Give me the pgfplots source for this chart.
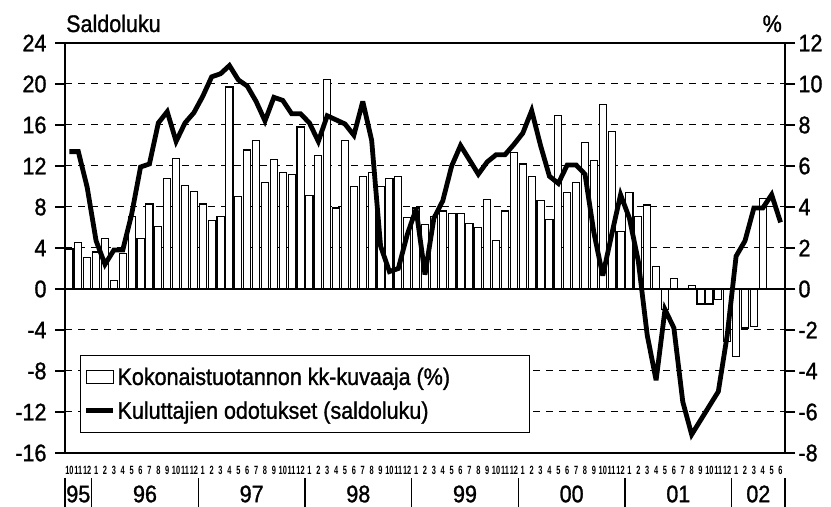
\documentclass[border=0pt]{standalone}
\usepackage{fontspec}
\setmainfont{Liberation Sans}[FakeStretch=0.9, FakeBold=1.2]
\newfontfamily\monthfont{Liberation Sans}[FakeStretch=0.62]
\usepackage{pgfplots}
\usepackage{pgfplotstable}
\pgfplotsset{compat=1.18}

\pgfplotstableread{
x y
0 1.95
1 2.25
2 1.55
3 1.8
4 2.45
5 0.43
6 1.75
7 3.55
8 2.45
9 4.15
10 3.03
11 5.4
12 6.35
13 5.05
14 4.75
15 4.15
16 3.35
17 3.55
18 9.85
19 4.5
20 6.78
21 7.25
22 5.2
23 6.3
24 5.7
25 5.6
26 7.9
27 4.58
28 6.5
29 10.2
30 3.95
31 7.25
32 5.0
33 5.5
34 5.68
35 5.0
36 5.4
37 5.5
38 3.48
39 3.95
40 3.15
41 3.55
42 3.8
43 3.7
44 3.7
45 3.2
46 3.0
47 4.38
48 2.35
49 3.8
50 6.65
51 6.1
52 5.5
53 4.33
54 3.4
55 8.45
56 4.7
57 5.2
58 7.15
59 6.25
60 9.0
61 7.7
62 2.8
63 4.7
64 3.55
65 4.1
66 1.1
67 -1.0
68 0.5
69 0
70 0.18
71 -0.73
72 -0.73
73 -0.52
74 -2.55
75 -3.3
76 -1.9
77 -1.83
78 4.4
}\bars

\pgfplotstableread{
x y
0 13.4
1 13.4
2 9.9
3 4.7
4 2.4
5 3.8
6 3.8
7 7.3
8 11.9
9 12.2
10 16.2
11 17.3
12 14.4
13 16.2
14 17.2
15 18.8
16 20.7
17 21.0
18 21.8
19 20.4
20 19.8
21 18.3
22 16.4
23 18.7
24 18.4
25 17.1
26 17.1
27 16.2
28 14.4
29 16.9
30 16.5
31 16.1
32 15.0
33 18.3
34 14.5
35 4.2
36 1.7
37 2.0
38 5.3
39 7.8
40 1.4
41 6.9
42 8.6
43 12.0
44 14.0
45 12.6
46 11.2
47 12.4
48 13.1
49 13.1
50 14.1
51 15.2
52 17.4
53 14.0
54 11.0
55 10.3
56 12.1
57 12.1
58 11.2
59 5.5
60 1.3
61 5.3
62 9.2
63 6.9
64 2.7
65 -4.5
66 -8.9
67 -2.0
68 -3.8
69 -11.0
70 -14.2
71 -12.8
72 -11.4
73 -10.0
74 -4.5
75 3.2
76 4.7
77 7.9
78 7.9
79 9.2
80 6.5
}\cons

\newcommand\bigf{\fontsize{24}{26}\selectfont}

\begin{document}
\begin{tikzpicture}
\useasboundingbox (-65bp,-54bp) rectangle (766bp,453bp);
% bars on the right (%) axis
\begin{axis}[
  scale only axis, width=720bp, height=410bp,
  xmin=-0.5, xmax=80.5, ymin=-8, ymax=12,
  xtick=\empty,
  ytick={-8,-6,...,12},
  yticklabels={-8,-6,-4,-2,0,2,4,6,8,10,12},
  ytick pos=right, yticklabel pos=right,
  tick align=outside, major tick length=10bp,
  every tick/.style={black, line width=1.3bp},
  axis line style={line width=1.4bp},
  ymajorgrids,
  grid style={black, line width=1bp, dash pattern=on 7bp off 6bp},
  extra y ticks={0}, extra y tick labels={},
  extra y tick style={grid style={black, solid, line width=1.5bp}},
  yticklabel style={font=\bigf},
]
\addplot[ybar, bar width=0.8, draw=black, fill=white, line width=1.2bp] table {\bars};
\end{axis}
% line on the left (saldoluku) axis
\begin{axis}[
  scale only axis, width=720bp, height=410bp,
  xmin=-0.5, xmax=80.5, ymin=-16, ymax=24,
  clip=false,
  xtick={0,...,80},
  xticklabels={10,11,12,1,2,3,4,5,6,7,8,9,10,11,12,1,2,3,4,5,6,7,8,9,10,11,12,1,2,3,4,5,6,7,8,9,10,11,12,1,2,3,4,5,6,7,8,9,10,11,12,1,2,3,4,5,6,7,8,9,10,11,12,1,2,3,4,5,6,7,8,9,10,11,12,1,2,3,4,5,6},
  xtick style={draw=none},
  xticklabel style={font=\monthfont\bfseries\fontsize{12}{12}\selectfont, inner sep=0pt, yshift=-3bp},
  ytick={-16,-12,...,24},
  yticklabels={-16,-12,-8,-4,0,4,8,12,16,20,24},
  ytick pos=left,
  tick align=outside, major tick length=10bp,
  every tick/.style={black, line width=1.3bp},
  axis line style={line width=1.4bp},
  yticklabel style={font=\bigf, xshift=-5bp},
  legend style={at={(0.021,0.049)}, anchor=south west, draw=black, line width=1.3bp,
    fill=white, font=\bigf, inner xsep=3bp, inner ysep=10bp, row sep=11bp},
  legend cell align=left,
]
\addlegendimage{legend image code/.code={\draw[black, fill=white, line width=1.2bp] (0bp,-6.5bp) rectangle (27bp,6.5bp);}}
\addlegendentry{\makebox[407bp][l]{Kokonaistuotannon kk-kuvaaja (\%)}}
\addplot[black, line width=4.8bp, miter limit=4,
  legend image code/.code={\draw[black, line width=4.8bp] (0bp,0bp) -- (27bp,0bp);}] table {\cons};
\addlegendentry{\makebox[407bp][l]{Kuluttajien odotukset (saldoluku)}}
% titles
\node[anchor=base west, inner sep=0pt, font=\bigf] at ([xshift=1bp,yshift=11bp]rel axis cs:0,1) {Saldoluku};
\node[anchor=base east, inner sep=0pt, font=\bigf] at ([xshift=-3bp,yshift=11bp]rel axis cs:1,1) {\%};
% year labels
\node[font=\bigf, inner sep=0pt] at ([yshift=-41bp]axis cs:1,-16) {95};
\node[font=\bigf, inner sep=0pt] at ([yshift=-41bp]axis cs:8.5,-16) {96};
\node[font=\bigf, inner sep=0pt] at ([yshift=-41bp]axis cs:20.5,-16) {97};
\node[font=\bigf, inner sep=0pt] at ([yshift=-41bp]axis cs:32.5,-16) {98};
\node[font=\bigf, inner sep=0pt] at ([yshift=-41bp]axis cs:44.5,-16) {99};
\node[font=\bigf, inner sep=0pt] at ([yshift=-41bp]axis cs:56.5,-16) {00};
\node[font=\bigf, inner sep=0pt] at ([yshift=-41bp]axis cs:68.5,-16) {01};
\node[font=\bigf, inner sep=0pt] at ([yshift=-41bp]axis cs:77.5,-16) {02};
% year separators
\draw[black, line width=1.5bp] ([yshift=-25bp]axis cs:-0.5,-16) -- ([yshift=-54bp]axis cs:-0.5,-16);
\draw[black, line width=1.5bp] ([yshift=-25bp]axis cs:2.5,-16) -- ([yshift=-54bp]axis cs:2.5,-16);
\draw[black, line width=1.5bp] ([yshift=-25bp]axis cs:14.5,-16) -- ([yshift=-54bp]axis cs:14.5,-16);
\draw[black, line width=1.5bp] ([yshift=-25bp]axis cs:26.5,-16) -- ([yshift=-54bp]axis cs:26.5,-16);
\draw[black, line width=1.5bp] ([yshift=-25bp]axis cs:38.5,-16) -- ([yshift=-54bp]axis cs:38.5,-16);
\draw[black, line width=1.5bp] ([yshift=-25bp]axis cs:50.5,-16) -- ([yshift=-54bp]axis cs:50.5,-16);
\draw[black, line width=1.5bp] ([yshift=-25bp]axis cs:62.5,-16) -- ([yshift=-54bp]axis cs:62.5,-16);
\draw[black, line width=1.5bp] ([yshift=-25bp]axis cs:74.5,-16) -- ([yshift=-54bp]axis cs:74.5,-16);
\draw[black, line width=1.5bp] ([yshift=-25bp]axis cs:80.5,-16) -- ([yshift=-54bp]axis cs:80.5,-16);
\end{axis}
\end{tikzpicture}
\end{document}
